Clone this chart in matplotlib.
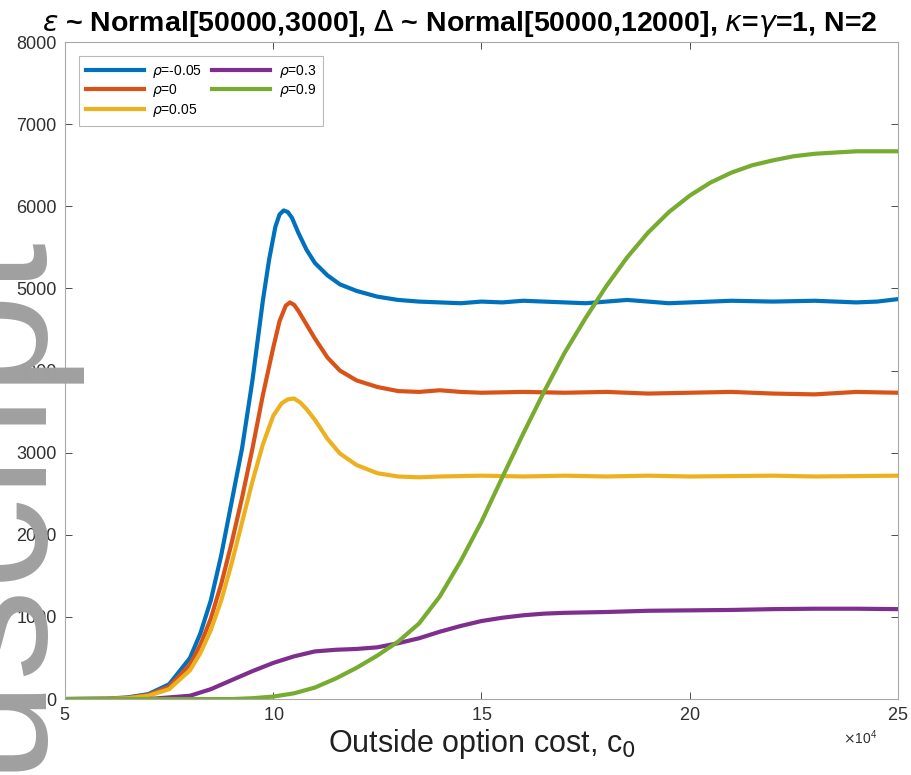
import numpy as np
import matplotlib
matplotlib.use("Agg")
from matplotlib import pyplot as plt

plt.rcParams['font.family'] = ['Liberation Sans', 'DejaVu Sans']
plt.rcParams['mathtext.fontset'] = 'dejavusans'

# outside option cost, in units of 1e4
x_blue = [5, 6, 6.5, 7, 7.5, 8, 8.25, 8.5, 8.75, 9, 9.25, 9.5, 9.75, 9.9, 10.05, 10.15, 10.25, 10.35,
          10.45, 10.6, 10.8, 11, 11.3, 11.6, 12, 12.5, 13, 13.5, 14, 14.5, 15, 15.5, 16, 16.5, 17,
          17.5, 18, 18.5, 19, 19.5, 20, 21, 22, 23, 24, 24.5, 25]
y_blue = [0, 5, 20, 60, 180, 500, 800, 1200, 1750, 2400, 3050, 3880, 4850, 5350, 5750, 5900, 5950, 5930,
          5860, 5680, 5470, 5310, 5160, 5050, 4970, 4900, 4860, 4840, 4830, 4820, 4840, 4830, 4850, 4840, 4830,
          4820, 4840, 4860, 4840, 4820, 4830, 4850, 4840, 4850, 4830, 4840, 4870]

x_orange = [5, 6, 6.5, 7, 7.5, 8, 8.25, 8.5, 8.75, 9, 9.25, 9.5, 9.75, 10, 10.15, 10.3, 10.4, 10.5,
            10.6, 10.8, 11, 11.3, 11.6, 12, 12.5, 13, 13.5, 14, 14.5, 15, 16, 17, 18, 19, 20, 21, 22,
            23, 24, 25]
y_orange = [0, 4, 15, 50, 150, 420, 660, 980, 1400, 1900, 2450, 3050, 3700, 4280, 4600, 4790, 4830, 4800,
            4730, 4560, 4390, 4160, 4000, 3880, 3800, 3750, 3740, 3760, 3740, 3730, 3740, 3730, 3740, 3720,
            3730, 3740, 3720, 3710, 3740, 3730]

x_yellow = [5, 6, 6.5, 7, 7.5, 8, 8.25, 8.5, 8.75, 9, 9.25, 9.5, 9.75, 10, 10.2, 10.35, 10.5, 10.65,
            10.8, 11, 11.3, 11.6, 12, 12.5, 13, 13.5, 14, 15, 16, 17, 18, 19, 20, 21, 22, 23, 24, 25]
y_yellow = [0, 3, 10, 40, 120, 350, 560, 840, 1200, 1650, 2150, 2650, 3100, 3450, 3600, 3650, 3660, 3610,
            3530, 3400, 3170, 2990, 2850, 2750, 2710, 2700, 2710, 2720, 2710, 2720, 2710, 2720, 2710, 2715,
            2720, 2710, 2715, 2720]

x_purple = [5, 7, 8, 8.5, 9, 9.5, 10, 10.5, 11, 11.5, 12, 12.5, 13, 13.5, 14, 14.5, 15, 15.5, 16,
            16.5, 17, 18, 19, 20, 21, 22, 23, 24, 25]
y_purple = [0, 0, 40, 120, 230, 340, 440, 520, 580, 600, 610, 630, 680, 740, 820, 890, 950, 990, 1020,
            1040, 1050, 1060, 1075, 1080, 1085, 1095, 1100, 1100, 1095]

x_green = [5, 9, 9.5, 10, 10.5, 11, 11.5, 12, 12.5, 13, 13.5, 14, 14.5, 15, 15.5, 16, 16.5, 17, 17.5,
           18, 18.5, 19, 19.5, 20, 20.5, 21, 21.5, 22, 22.5, 23, 24, 25]
y_green = [0, 0, 10, 30, 70, 140, 250, 380, 530, 700, 920, 1250, 1680, 2160, 2700, 3230, 3740, 4220, 4640,
           5030, 5380, 5680, 5930, 6130, 6290, 6410, 6500, 6560, 6610, 6640, 6670, 6670]

labels = [r"$\rho$=-0.05", r"$\rho$=0", r"$\rho$=0.05", r"$\rho$=0.3", r"$\rho$=0.9"]
colors = ["#0072BD", "#D95319", "#EDB120", "#7E2F8E", "#77AC30"]

fig = plt.figure(figsize=(9.12, 7.75), dpi=100)
ax = fig.add_axes([0.0713, 0.098, 0.9133, 0.8477])

series = [(x_blue, y_blue), (x_orange, y_orange), (x_yellow, y_yellow),
          (x_purple, y_purple), (x_green, y_green)]
for (xs, ys), lab, col in zip(series, labels, colors):
    ax.plot(np.array(xs) * 1e4, ys, color=col, lw=3, label=lab)

ax.set_xlim(5e4, 25e4)
ax.set_ylim(0, 8000)
ax.set_xticks([5e4, 10e4, 15e4, 20e4, 25e4])
ax.set_yticks(range(0, 8001, 1000))
ax.ticklabel_format(axis='x', style='sci', scilimits=(4, 4), useMathText=True)
ax.tick_params(direction='in', top=True, right=True, labelsize=13, colors='#303030',
               length=5, width=0.6, pad=6)
ax.xaxis.get_offset_text().set_fontsize(10)
ax.xaxis.get_offset_text().set_color('#303030')
ax.xaxis.get_offset_text().set_x(0.975)
for s in ax.spines.values():
    s.set_color('#a8a8a8')
    s.set_linewidth(0.8)

ax.set_title(r"$\epsilon$ ~ Normal[50000,3000], $\Delta$ ~ Normal[50000,12000], $\kappa$=$\gamma$=1, N=2",
             fontsize=20.5, fontweight='bold', pad=8, x=0.474)
ax.set_xlabel("Outside option cost, c$_0$", fontsize=22, labelpad=2, color='#202020')

leg = ax.legend(ncol=2, loc='upper left', bbox_to_anchor=(0.008, 0.99), fontsize=10,
                handlelength=4.2, handletextpad=0.6, columnspacing=0.7, frameon=True,
                fancybox=False, borderpad=0.5, labelspacing=0.2)
leg.get_frame().set_edgecolor('#a8a8a8')
leg.get_frame().set_linewidth(0.8)

# watermark
fig.text(32 / 912, 1 - 227 / 775, "Manuscript", rotation=90, rotation_mode='anchor',
         ha='right', va='baseline', fontsize=132, color='#a0a0a0', zorder=10)

fig.savefig("out.png", dpi=100)
